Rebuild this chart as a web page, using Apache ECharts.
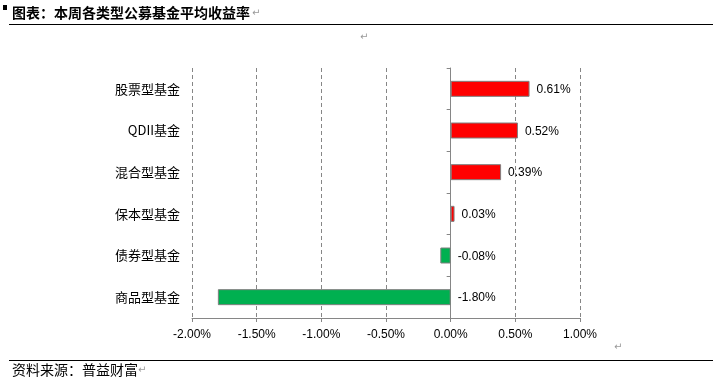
<!DOCTYPE html>
<html><head><meta charset="utf-8">
<script src="https://cdn.jsdelivr.net/npm/echarts@6/dist/echarts.min.js"></script>
<style>html,body{margin:0;padding:0;background:#fff}#c{width:713px;height:383px}</style>
</head><body><div id="c"></div>
<script>
var categories = ['股票型基金','QDII基金','混合型基金','保本型基金','债券型基金','商品型基金'];
var returns = [0.61, 0.52, 0.39, 0.03, -0.08, -1.80];
var titleText = '图表：本周各类型公募基金平均收益率';
var sourceText = '资料来源：普益财富';
var axisMin = -2, axisMax = 1, axisStep = 0.5;

var chart = echarts.init(document.getElementById('c'), null, {renderer:'canvas'});
var cjk = '"Noto Sans CJK SC", sans-serif';
var num = '"Liberation Sans", "Noto Sans CJK SC", sans-serif';
var gray = '#868686';
chart.setOption({
  animation:false,
  backgroundColor:'#fff',
  grid:{left:192, right:133, top:68, bottom:65},
  xAxis:{type:'value', min:axisMin, max:axisMax, interval:axisStep,
    axisLine:{show:true, onZero:false, lineStyle:{color:gray,width:1}},
    axisTick:{show:true, length:4, lineStyle:{color:gray}},
    axisLabel:{margin:11, color:'#000', fontSize:12, fontFamily:num,
      formatter:function(v){return v.toFixed(2)+'%';}},
    splitLine:{show:true, lineStyle:{color:gray, type:[4,3], width:1}}
  },
  yAxis:[
    {type:'category', data:categories, inverse:true,
     axisLine:{show:false, onZero:false}, axisTick:{show:false}, splitLine:{show:false},
     axisLabel:{margin:12, color:'#000', fontSize:13, fontFamily:cjk}},
    {type:'category', data:categories, inverse:true, position:'left',
     axisLine:{show:true, onZero:true, onZeroAxisIndex:0, lineStyle:{color:gray,width:1}},
     axisTick:{show:true, length:4, lineStyle:{color:gray}},
     axisLabel:{show:false}, splitLine:{show:false}}
  ],
  series:[{
    type:'bar', yAxisIndex:0, barWidth:16,
    data:returns,
    itemStyle:{borderColor:'#7f7f7f', borderWidth:1,
      color:function(p){return p.value>=0?'#FF0000':'#00B050';}},
    label:{show:true, position:'right', distance:7, offset:[0,1], color:'#000', fontSize:12, fontFamily:num,
      formatter:function(p){return p.value.toFixed(2)+'%';}}
  }],
  graphic:[
    {type:'rect', shape:{x:3,y:5,width:4,height:5}, style:{fill:'#000'}},
    {type:'text', left:12, top:6, style:{text:titleText, font:'bold 14px "Noto Sans CJK SC"', fill:'#000'}},
    {type:'text', left:252, top:8, style:{text:'↵', font:'10px "DejaVu Sans"', fill:'#999'}},
    {type:'line', shape:{x1:9,y1:24.5,x2:713,y2:24.5}, style:{stroke:'#000', lineWidth:1}},
    {type:'text', left:360, top:32, style:{text:'↵', font:'10px "DejaVu Sans"', fill:'#999'}},
    {type:'text', left:614, top:342, style:{text:'↵', font:'10px "DejaVu Sans"', fill:'#999'}},
    {type:'line', shape:{x1:9,y1:360.5,x2:713,y2:360.5}, style:{stroke:'#000', lineWidth:1}},
    {type:'text', left:12, top:363, style:{text:sourceText, font:'14px "Noto Sans CJK SC"', fill:'#000'}},
    {type:'text', left:138, top:365, style:{text:'↵', font:'10px "DejaVu Sans"', fill:'#999'}}
  ]
});
</script></body></html>
